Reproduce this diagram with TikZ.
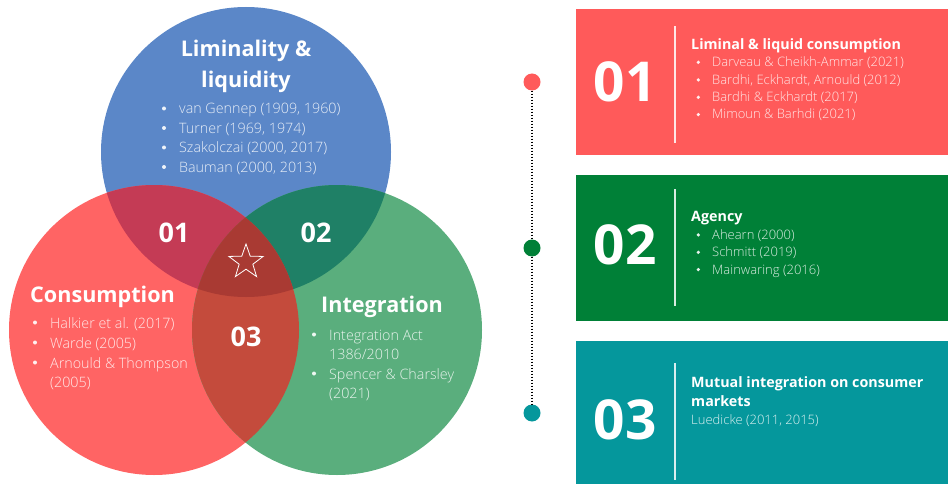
\documentclass[tikz,border=0pt]{standalone}
\usepackage{fontspec}
\setmainfont{Open Sans}
\newfontfamily\lightfont{Open Sans Light}
\usetikzlibrary{shapes.geometric}

% circle fills and the colours of their overlaps
\definecolor{cblue}{HTML}{5B87C8}
\definecolor{cred}{HTML}{FF6464}
\definecolor{cgreen}{HTML}{5AAE7D}
\definecolor{credblue}{HTML}{C43B55}
\definecolor{cbluegreen}{HTML}{1F8066}
\definecolor{credgreen}{HTML}{C44B3C}
\definecolor{call}{HTML}{A93A33}
% panel colours
\definecolor{pred}{HTML}{FF5A5A}
\definecolor{pgreen}{HTML}{008037}
\definecolor{pteal}{HTML}{05979C}

\tikzset{
  settitle/.style={text=white, font=\bfseries\fontsize{21.6}{26}\selectfont, inner sep=0pt, anchor=base},
  setitem/.style={text=white, text opacity=0.85, font=\lightfont\fontsize{14.3}{17}\selectfont, inner sep=0pt, anchor=base west},
  setbullet/.style={circle, fill=white, fill opacity=0.9, minimum size=4pt, inner sep=0pt},
  zonenum/.style={text=white, font=\bfseries\fontsize{27}{30}\selectfont, inner sep=0pt},
  panel/.style={anchor=north west, minimum width=372pt, minimum height=146pt, inner sep=0pt},
  bignum/.style={text=white, font=\bfseries\fontsize{55}{60}\selectfont, inner sep=0pt},
  ptitle/.style={text=white, font=\bfseries\fontsize{14.3}{19}\selectfont, inner sep=0pt, anchor=base west},
  pitem/.style={text=white, text opacity=0.85, font=\lightfont\fontsize{13}{16}\selectfont, inner sep=0pt, anchor=base west},
  pbullet/.style={circle, fill=white, fill opacity=0.9, minimum size=3.6pt, inner sep=0pt},
  divider/.style={white, draw opacity=0.85, line width=1.2pt},
  tdot/.style={circle, minimum size=17pt, inner sep=0pt},
}

\begin{document}
\begin{tikzpicture}[x=1pt,y=-1pt]
\useasboundingbox (0,0) rectangle (948,484);

% ---------- Venn diagram ----------
\coordinate (cb) at (246,152);
\coordinate (cr) at (154,330);
\coordinate (cg) at (337,330);
\def\R{145pt}

\fill[cblue]  (cb) circle[radius=\R];
\fill[cred]   (cr) circle[radius=\R];
\fill[cgreen] (cg) circle[radius=\R];
\begin{scope}
  \clip (cb) circle[radius=\R];
  \fill[credblue] (cr) circle[radius=\R];
\end{scope}
\begin{scope}
  \clip (cb) circle[radius=\R];
  \fill[cbluegreen] (cg) circle[radius=\R];
\end{scope}
\begin{scope}
  \clip (cr) circle[radius=\R];
  \fill[credgreen] (cg) circle[radius=\R];
\end{scope}
\begin{scope}
  \clip (cb) circle[radius=\R];
  \clip (cr) circle[radius=\R];
  \fill[call] (cg) circle[radius=\R];
\end{scope}

% set titles
\node[settitle] (limA) at (246,57) {Liminality \&};
\node[settitle] (limB) at (246,88) {liquidity};
\node[settitle, anchor=base west] (cons) at (30,302) {Consumption};
\node[settitle, anchor=base west] (integ) at (321,312) {Integration};

% Liminality & liquidity references
\foreach \i/\y/\t in {1/114/{van Gennep (1909, 1960)},
                      2/133.5/{Turner (1969, 1974)},
                      3/153/{Szakolczai (2000, 2017)},
                      4/172.5/{Bauman (2000, 2013)}}{
  \node[setbullet] (limb\i) at (164,\y-5.5) {};
  \node[setitem] (limt\i) at (179,\y) {\t};
}
% Consumption references
\foreach \i/\y/\t in {1/328/{Halkier et al. (2017)},
                      2/348/{Warde (2005)},
                      3/368/{Arnould \& Thompson}}{
  \node[setbullet] (consb\i) at (35,\y-5.5) {};
  \node[setitem] (const\i) at (50,\y) {\t};
}
\node[setitem] (const4) at (50,387.5) {(2005)};
% Integration references
\node[setbullet] (intb1) at (314,334.5) {};
\node[setbullet] (intb3) at (314,373.5) {};
\node[setitem] (intt1) at (329,340) {Integration Act};
\node[setitem] (intt2) at (329,359.5) {1386/2010};
\node[setitem] (intt3) at (329,379) {Spencer \& Charsley};
\node[setitem] (intt4) at (329,398.5) {(2021)};

% overlap numbers and the centre star
\node[zonenum] (z1) at (174,233) {01};
\node[zonenum] (z2) at (316,233) {02};
\node[zonenum] (z3) at (246,337) {03};
\node[star, star points=5, star point ratio=2.5, minimum size=36pt, inner sep=0pt,
      draw=white, line width=0.8pt] (centre) at (246,262) {};

% ---------- timeline ----------
\node[tdot, fill=pred]   (d1) at (532,82) {};
\node[tdot, fill=pgreen] (d2) at (532,248) {};
\node[tdot, fill=pteal]  (d3) at (532,413) {};
\draw[black, line width=1.3pt, dash pattern=on 1.3pt off 1.7pt] (d1) -- (d2);
\draw[black, line width=1.3pt, dash pattern=on 1.3pt off 1.7pt] (d2) -- (d3);

% ---------- panels ----------
\node[panel, fill=pred]   (p1) at (576,9) {};
\node[panel, fill=pgreen] (p2) at (576,175) {};
\node[panel, fill=pteal, minimum height=143pt] (p3) at (576,341) {};

\coordinate (v1a) at (675,26);  \coordinate (v1b) at (675,143);
\coordinate (v2a) at (675,189); \coordinate (v2b) at (675,306);
\coordinate (v3a) at (675,363); \coordinate (v3b) at (675,480);
\draw[divider] (v1a) -- (v1b);
\draw[divider] (v2a) -- (v2b);
\draw[divider] (v3a) -- (v3b);

\node[bignum] (n1) at (625,82) {01};
\node[bignum] (n2) at (625,245) {02};
\node[bignum] (n3) at (625,420) {03};

% panel 01
\node[ptitle] (p1t) at (691,50) {Liminal \& liquid consumption};
\foreach \i/\y/\t in {1/66.7/{Darveau \& Cheikh-Ammar (2021)},
                      2/84.3/{Bardhi, Eckhardt, Arnould (2012)},
                      3/101.7/{Bardhi \& Eckhardt (2017)},
                      4/119/{Mimoun \& Barhdi (2021)}}{
  \node[pbullet] (p1b\i) at (698.3,\y-4.4) {};
  \node[pitem] (p1i\i) at (712,\y) {\t};
}
% panel 02
\node[ptitle] (p2t) at (691,221.7) {Agency};
\foreach \i/\y/\t in {1/239.3/{Ahearn (2000)},
                      2/256.7/{Schmitt (2019)},
                      3/274/{Mainwaring (2016)}}{
  \node[pbullet] (p2b\i) at (698.3,\y-4.4) {};
  \node[pitem] (p2i\i) at (712,\y) {\t};
}
% panel 03
\node[ptitle] (p3t) at (691,387.3) {Mutual integration on consumer};
\node[ptitle] (p3u) at (691,406.7) {markets};
\node[pitem] (p3i1) at (691,424.3) {Luedicke (2011, 2015)};

\end{tikzpicture}
\end{document}
